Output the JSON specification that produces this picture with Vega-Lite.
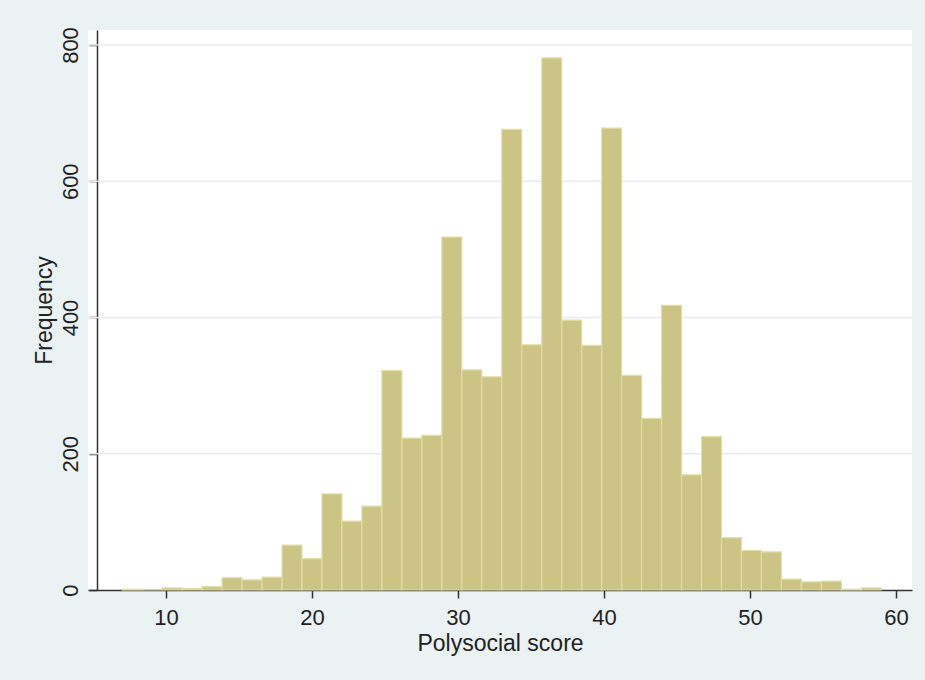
{
  "$schema": "https://vega.github.io/schema/vega-lite/v6.json",
  "autosize": "none",
  "width": 824,
  "height": 560,
  "padding": {"left": 88, "top": 30, "right": 13, "bottom": 90},
  "background": "#eaf2f3",
  "config": {
    "view": {"stroke": null, "fill": "white"},
    "font": "Liberation Sans",
    "axis": {
      "domainColor": "#333333",
      "tickColor": "#333333",
      "labelColor": "#222222",
      "titleColor": "#222222",
      "labelFont": "Liberation Sans",
      "titleFont": "Liberation Sans",
      "labelFontSize": 22,
      "titleFontSize": 23,
      "titleFontWeight": "normal",
      "tickSize": 8,
      "domainWidth": 1.5,
      "tickWidth": 1.5
    }
  },
  "datasets": {
    "bins": [
      {"bin_start": 7.000, "bin_end": 8.368, "count": 1},
      {"bin_start": 8.368, "bin_end": 9.737, "count": 0},
      {"bin_start": 9.737, "bin_end": 11.105, "count": 3},
      {"bin_start": 11.105, "bin_end": 12.474, "count": 2},
      {"bin_start": 12.474, "bin_end": 13.842, "count": 5},
      {"bin_start": 13.842, "bin_end": 15.211, "count": 18},
      {"bin_start": 15.211, "bin_end": 16.579, "count": 15},
      {"bin_start": 16.579, "bin_end": 17.947, "count": 19},
      {"bin_start": 17.947, "bin_end": 19.316, "count": 66},
      {"bin_start": 19.316, "bin_end": 20.684, "count": 46},
      {"bin_start": 20.684, "bin_end": 22.053, "count": 141},
      {"bin_start": 22.053, "bin_end": 23.421, "count": 101},
      {"bin_start": 23.421, "bin_end": 24.789, "count": 123},
      {"bin_start": 24.789, "bin_end": 26.158, "count": 322},
      {"bin_start": 26.158, "bin_end": 27.526, "count": 223},
      {"bin_start": 27.526, "bin_end": 28.895, "count": 227},
      {"bin_start": 28.895, "bin_end": 30.263, "count": 518},
      {"bin_start": 30.263, "bin_end": 31.632, "count": 323},
      {"bin_start": 31.632, "bin_end": 33.000, "count": 313},
      {"bin_start": 33.000, "bin_end": 34.368, "count": 676},
      {"bin_start": 34.368, "bin_end": 35.737, "count": 360},
      {"bin_start": 35.737, "bin_end": 37.105, "count": 781},
      {"bin_start": 37.105, "bin_end": 38.474, "count": 396},
      {"bin_start": 38.474, "bin_end": 39.842, "count": 359},
      {"bin_start": 39.842, "bin_end": 41.211, "count": 678},
      {"bin_start": 41.211, "bin_end": 42.579, "count": 315},
      {"bin_start": 42.579, "bin_end": 43.947, "count": 252},
      {"bin_start": 43.947, "bin_end": 45.316, "count": 418},
      {"bin_start": 45.316, "bin_end": 46.684, "count": 169},
      {"bin_start": 46.684, "bin_end": 48.053, "count": 225},
      {"bin_start": 48.053, "bin_end": 49.421, "count": 77},
      {"bin_start": 49.421, "bin_end": 50.789, "count": 58},
      {"bin_start": 50.789, "bin_end": 52.158, "count": 56},
      {"bin_start": 52.158, "bin_end": 53.526, "count": 16},
      {"bin_start": 53.526, "bin_end": 54.895, "count": 12},
      {"bin_start": 54.895, "bin_end": 56.263, "count": 13},
      {"bin_start": 56.263, "bin_end": 57.632, "count": 1},
      {"bin_start": 57.632, "bin_end": 59.000, "count": 3}
    ],
    "grid": [
      {"count": 200},
      {"count": 400},
      {"count": 600},
      {"count": 800}
    ]
  },
  "layer": [
    {
      "data": {"name": "grid"},
      "mark": {"type": "rule", "color": "#e9eced", "strokeWidth": 1.5},
      "encoding": {
        "y": {"field": "count", "type": "quantitative", "scale": {"domain": [0, 822], "nice": false}}
      }
    },
    {
      "data": {"name": "bins"},
      "mark": {"type": "rect", "fill": "#cbc484", "stroke": "#e2dea6", "strokeWidth": 1.2},
      "encoding": {
        "x": {
          "field": "bin_start",
          "type": "quantitative",
          "scale": {"domain": [4.66, 61.1], "nice": false, "zero": false},
          "axis": {
            "values": [10, 20, 30, 40, 50, 60],
            "title": "Polysocial score",
            "grid": false,
            "labelPadding": 9,
            "titlePadding": 4
          }
        },
        "x2": {"field": "bin_end"},
        "y": {
          "field": "count",
          "type": "quantitative",
          "scale": {"domain": [0, 822], "nice": false},
          "axis": {
            "values": [0, 200, 400, 600, 800],
            "title": "Frequency",
            "grid": false,
            "offset": -9,
            "labelAngle": -90,
            "labelAlign": "center",
            "labelBaseline": "bottom",
            "labelPadding": 7,
            "titlePadding": 3
          }
        },
        "y2": {"datum": 0}
      }
    }
  ]
}
